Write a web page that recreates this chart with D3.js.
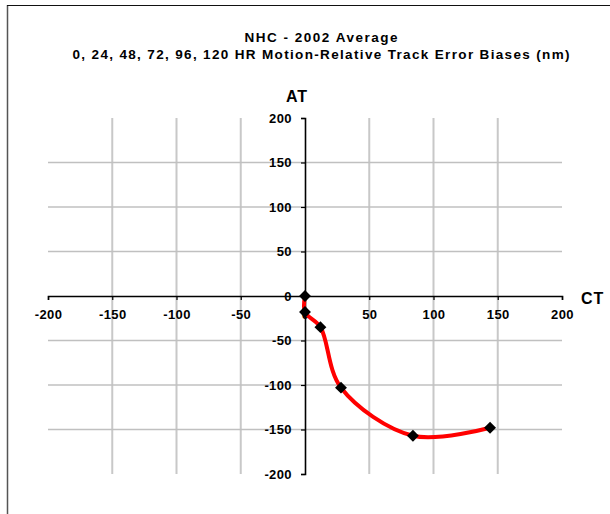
<!DOCTYPE html>
<html><head><meta charset="utf-8">
<script src="https://cdn.jsdelivr.net/npm/d3@7"></script>
<style>
body{margin:0;background:#fff;}
svg{display:block;}
text{font-family:"Liberation Sans",Arial,sans-serif;font-weight:bold;fill:#000;}
</style></head>
<body>
<svg id="c" width="610" height="514"></svg>
<script>
const titleLines = ["NHC - 2002 Average", "0, 24, 48, 72, 96, 120 HR Motion-Relative Track Error Biases (nm)"];
const hours = [0, 24, 48, 72, 96, 120];
const ctValues = [0, 0, 12, 28, 84, 144];
const atValues = [0, -18, -35, -103, -157, -148];
const xTicks = [-200, -150, -100, -50, 0, 50, 100, 150, 200];
const yTicks = [-200, -150, -100, -50, 0, 50, 100, 150, 200];

const svg = d3.select("#c");
const x = d3.scaleLinear().domain([-200, 200]).range([48, 562]);
const y = d3.scaleLinear().domain([-200, 200]).range([474, 118]);

// frame
svg.append("line").attr("x1",7.5).attr("x2",7.5).attr("y1",5).attr("y2",514).attr("stroke","#555").attr("stroke-width",1.5);
svg.append("line").attr("x1",7).attr("x2",610).attr("y1",5.5).attr("y2",5.5).attr("stroke","#111").attr("stroke-width",1);

// titles
svg.append("text").attr("x",321).attr("y",42).attr("text-anchor","middle").attr("font-size",13.5)
  .attr("textLength",153).attr("lengthAdjust","spacing").text(titleLines[0]);
svg.append("text").attr("x",321).attr("y",59).attr("text-anchor","middle").attr("font-size",13.5)
  .attr("textLength",497).attr("lengthAdjust","spacing").text(titleLines[1]);

// gridlines
const g = svg.append("g");
g.selectAll(".vg").data(xTicks.filter(d => d !== 0 && Math.abs(d) !== 200)).enter().append("line")
  .attr("x1", d => x(d)).attr("x2", d => x(d)).attr("y1", y(200)).attr("y2", y(-200))
  .attr("stroke", "#c8c8c8").attr("stroke-width", 2);
g.selectAll(".hg").data(yTicks.filter(d => d !== 0 && Math.abs(d) !== 200)).enter().append("line")
  .attr("x1", x(-200)).attr("x2", x(200)).attr("y1", d => y(d)).attr("y2", d => y(d))
  .attr("stroke", "#c0c0c0").attr("stroke-width", 1.5);

// axes
const fmt = d => String(d);
const xAxis = svg.append("g").attr("transform", `translate(0,${y(0)})`)
  .call(d3.axisBottom(x).tickValues(xTicks).tickSize(4).tickSizeOuter(4).tickPadding(10).tickFormat(fmt));
const yAxis = svg.append("g").attr("transform", `translate(${x(0)},0)`)
  .call(d3.axisLeft(y).tickValues(yTicks).tickSize(4).tickSizeOuter(4).tickPadding(9).tickFormat(fmt));
[xAxis, yAxis].forEach(a => {
  a.select(".domain").attr("stroke", "#000").attr("stroke-width", 1.6);
  a.selectAll(".tick line").attr("stroke", "#000").attr("stroke-width", 1.2);
  a.selectAll(".tick text").style("font-family", '"Liberation Sans",Arial,sans-serif')
    .style("font-weight", "bold").style("font-size", "13px").style("letter-spacing", "0.4px").attr("fill", "#000");
});
xAxis.selectAll(".tick text").attr("dy", "0.71em");

// axis titles
svg.append("text").attr("x", 297).attr("y", 102).attr("text-anchor", "middle").attr("font-size", 16)
  .style("letter-spacing","1px").text("AT");
svg.append("text").attr("x", 581).attr("y", 304).attr("font-size", 16).style("letter-spacing","1px").text("CT");

// series
const pts = hours.map((h, i) => ({h, ct: ctValues[i], at: atValues[i]}));
const line = d3.line().x(d => x(d.ct)).y(d => y(d.at)).curve(d3.curveCatmullRom.alpha(0.5));
svg.append("path").datum(pts).attr("d", line).attr("fill", "none").attr("stroke", "#ff0000")
  .attr("stroke-width", 4).attr("stroke-linejoin", "round").attr("stroke-linecap", "round");
svg.selectAll(".mk").data(pts).enter().append("path")
  .attr("d", d3.symbol().type(d3.symbolDiamond2).size(90))
  .attr("transform", d => `translate(${x(d.ct)},${y(d.at)})`).attr("fill", "#000");
</script>
</body></html>
